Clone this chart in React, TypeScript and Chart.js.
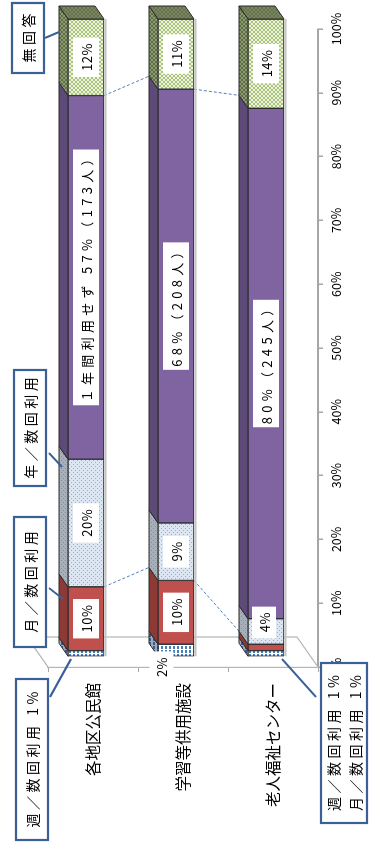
import React, { useEffect, useRef } from 'react';
import { Chart, registerables } from 'chart.js';

Chart.register(...registerables);

// ---- data ----
const categories = ['各地区公民館', '学習等供用施設', '老人福祉センター'];
const seriesNames = ['週／数回利用', '月／数回利用', '年／数回利用', '１年間利用せず', '無回答'];
const weeklyUse = [1, 2, 1];
const monthlyUse = [10, 10, 1];
const yearlyUse = [20, 9, 4];
const notUsed = [57, 68, 80];
const noAnswer = [12, 11, 14];
const notUsedCounts = [173, 208, 245];
const valueTicks = [0, 10, 20, 30, 40, 50, 60, 70, 80, 90, 100];

const seriesData = [weeklyUse, monthlyUse, yearlyUse, notUsed, noAnswer];

const FONT = "'Noto Sans CJK JP', 'Noto Sans', sans-serif";
const W = 843;
const H = 382;
const FRONT = { du: 10, dv: -7 }; // bar front plane offset from floor front
const DEPTH = { du: 13, dv: -9 }; // bar depth vector
const FLOOR = { du: 30, dv: -21 };
const EDGE = '#2B2B2B';
const CALLOUT = '#3B6096';

function tile(w: number, h: number, draw: (g: CanvasRenderingContext2D) => void) {
  const c = document.createElement('canvas');
  c.width = w;
  c.height = h;
  const g = c.getContext('2d')!;
  draw(g);
  return g.createPattern(c, 'repeat')!;
}

function buildPatterns() {
  const stripes = (bg: string, fg: string) =>
    tile(4, 4, (g) => {
      g.fillStyle = bg;
      g.fillRect(0, 0, 4, 4);
      g.fillStyle = fg;
      g.fillRect(0, 0, 3, 2);
    });
  const dots = (bg: string, fg: string) =>
    tile(4, 4, (g) => {
      g.fillStyle = bg;
      g.fillRect(0, 0, 4, 4);
      g.fillStyle = fg;
      g.fillRect(0, 0, 1, 1);
      g.fillRect(2, 2, 1, 1);
    });
  const checker = (a: string, b: string) =>
    tile(4, 4, (g) => {
      g.fillStyle = b;
      g.fillRect(0, 0, 4, 4);
      g.fillStyle = a;
      g.fillRect(0, 0, 2, 2);
      g.fillRect(2, 2, 2, 2);
    });
  return {
    front: [
      stripes('#FFFFFF', '#4A7EBB'),
      '#C0504D',
      dots('#DCE6F2', '#93B0D8'),
      '#8064A2',
      checker('#A9C37A', '#EEF4E0'),
    ] as any[],
    side: [
      stripes('#9AABC4', '#3D5A82'),
      '#8D3A37',
      dots('#A7AFBA', '#838E9D'),
      '#5E4A78',
      checker('#5F6F45', '#8D9B72'),
    ] as any[],
    cap: checker('#66724D', '#7A8660'),
  };
}

function boxLabel(
  ctx: CanvasRenderingContext2D,
  text: string,
  cu: number,
  cv: number,
  size: number,
  spacing: number,
  pad: number,
  bh: number,
) {
  ctx.save();
  ctx.font = `${size}px ${FONT}`;
  (ctx as any).letterSpacing = `${spacing}px`;
  const tw = ctx.measureText(text).width;
  const vis = tw - spacing;
  const bw = vis + pad * 2;
  ctx.fillStyle = '#FFFFFF';
  ctx.fillRect(cu - bw / 2, cv - bh / 2, bw, bh);
  ctx.fillStyle = '#000000';
  ctx.textAlign = 'left';
  ctx.textBaseline = 'middle';
  ctx.fillText(text, cu - vis / 2, cv + 1);
  ctx.restore();
}

type Callout = {
  lines: string[];
  u0: number;
  u1: number;
  v0: number;
  v1: number;
  from: [number, number];
  to: [number, number];
  lineVs?: number[];
};

const callouts: Callout[] = [
  { lines: [seriesNames[4]], u0: 770, u1: 840, v0: 12, v1: 44, from: [805, 45], to: [811, 59] },
  { lines: [seriesNames[2]], u0: 357, u1: 473, v0: 14, v1: 46, from: [390, 49], to: [376, 62] },
  { lines: [seriesNames[1]], u0: 196, u1: 326, v0: 14, v1: 46, from: [255, 49], to: [244, 63] },
  {
    lines: [`${seriesNames[0]} ${weeklyUse[0]}%`],
    u0: 3,
    u1: 164,
    v0: 16,
    v1: 48,
    from: [146, 50],
    to: [184, 71],
  },
  {
    lines: [`${seriesNames[0]} ${weeklyUse[2]}%`, `${seriesNames[1]} ${monthlyUse[2]}%`],
    u0: 20,
    u1: 180,
    v0: 321,
    v1: 367,
    from: [184, 282],
    to: [146, 316],
    lineVs: [333, 355],
  },
];

function segmentLabel(ds: number, i: number): string | null {
  const v = seriesData[ds][i];
  if (v <= 1) return null;
  if (ds === 3) return (i === 0 ? `${seriesNames[3]} ` : '') + `${v}%（${notUsedCounts[i]}人）`;
  return `${v}%`;
}

const threeD = {
  id: 'threeD',
  beforeDatasetsDraw(chart: any) {
    const ctx: CanvasRenderingContext2D = chart.ctx;
    const a = chart.chartArea;
    // floor
    ctx.save();
    ctx.strokeStyle = '#B5B5B5';
    ctx.lineWidth = 1.2;
    ctx.beginPath();
    ctx.moveTo(a.left, a.top);
    ctx.lineTo(a.left + FLOOR.du, a.top + FLOOR.dv);
    ctx.lineTo(a.left + FLOOR.du, a.bottom + FLOOR.dv);
    ctx.lineTo(a.left, a.bottom);
    ctx.stroke();
    ctx.restore();

    ctx.save();
    ctx.translate(FRONT.du, FRONT.dv);
    const metas = seriesData.map((_, k) => chart.getDatasetMeta(k));
    const props = (k: number, i: number) =>
      metas[k].data[i].getProps(['x', 'base', 'y', 'height'], true);

    // series lines
    ctx.save();
    ctx.strokeStyle = '#4F81BD';
    ctx.lineWidth = 1;
    ctx.setLineDash([3, 2]);
    [1, 3].forEach((k) => {
      for (let i = 0; i < categories.length - 1; i++) {
        const p = props(k, i);
        const q = props(k, i + 1);
        ctx.beginPath();
        ctx.moveTo(p.x, p.y + p.height / 2);
        ctx.lineTo(q.x + DEPTH.du, q.y - q.height / 2 + DEPTH.dv);
        ctx.stroke();
      }
    });
    ctx.restore();

    const pats = chart.options.plugins.threeD.pats;
    for (let i = 0; i < categories.length; i++) {
      // light shadow on the far side
      const first = props(0, i);
      const last = props(seriesData.length - 1, i);
      ctx.save();
      ctx.strokeStyle = '#C4C4C4';
      ctx.lineWidth = 2;
      ctx.beginPath();
      ctx.moveTo(first.base, first.y + first.height / 2 + 1.5);
      ctx.lineTo(last.x, last.y + last.height / 2 + 1.5);
      ctx.stroke();
      ctx.restore();
      for (let k = 0; k < seriesData.length; k++) {
        const p = props(k, i);
        const v1 = p.y - p.height / 2;
        ctx.beginPath();
        ctx.moveTo(p.base, v1);
        ctx.lineTo(p.x, v1);
        ctx.lineTo(p.x + DEPTH.du, v1 + DEPTH.dv);
        ctx.lineTo(p.base + DEPTH.du, v1 + DEPTH.dv);
        ctx.closePath();
        ctx.fillStyle = pats.side[k];
        ctx.fill();
        ctx.strokeStyle = EDGE;
        ctx.lineWidth = 1;
        ctx.stroke();
      }
    }
  },
  afterDatasetsDraw(chart: any) {
    const ctx: CanvasRenderingContext2D = chart.ctx;
    const pats = chart.options.plugins.threeD.pats;
    const metas = seriesData.map((_, k) => chart.getDatasetMeta(k));
    const props = (k: number, i: number) =>
      metas[k].data[i].getProps(['x', 'base', 'y', 'height'], true);
    // caps
    for (let i = 0; i < categories.length; i++) {
      const p = props(seriesData.length - 1, i);
      const v1 = p.y - p.height / 2;
      const v2 = p.y + p.height / 2;
      ctx.beginPath();
      ctx.moveTo(p.x, v1);
      ctx.lineTo(p.x, v2);
      ctx.lineTo(p.x + DEPTH.du, v2 + DEPTH.dv);
      ctx.lineTo(p.x + DEPTH.du, v1 + DEPTH.dv);
      ctx.closePath();
      ctx.fillStyle = pats.cap;
      ctx.fill();
      ctx.strokeStyle = EDGE;
      ctx.lineWidth = 1;
      ctx.stroke();
    }
    // labels
    for (let k = 0; k < seriesData.length; k++) {
      for (let i = 0; i < categories.length; i++) {
        const text = segmentLabel(k, i);
        if (!text) continue;
        const p = props(k, i);
        const v = seriesData[k][i];
        let cu = (p.x + p.base) / 2;
        let cv = p.y;
        if (v <= 2) {
          cu = p.base - 11;
          cv = p.y - 14.5;
        } else if (v <= 5) {
          cu += 9;
          cv -= 2;
        }
        const long = text.length > 4;
        boxLabel(ctx, text, cu, cv, 13, long ? 4.3 : 0.5, long ? 3 : 6, v <= 5 ? 24 : 26);
      }
    }
    ctx.restore(); // translate from beforeDatasetsDraw

    // callouts
    ctx.save();
    ctx.strokeStyle = CALLOUT;
    ctx.lineWidth = 2;
    callouts.forEach((c) => {
      ctx.beginPath();
      ctx.moveTo(c.from[0], c.from[1]);
      ctx.lineTo(c.to[0], c.to[1]);
      ctx.stroke();
    });
    callouts.forEach((c) => {
      ctx.fillStyle = '#FFFFFF';
      ctx.fillRect(c.u0, c.v0, c.u1 - c.u0, c.v1 - c.v0);
      ctx.strokeStyle = CALLOUT;
      ctx.lineWidth = 2.2;
      ctx.strokeRect(c.u0, c.v0, c.u1 - c.u0, c.v1 - c.v0);
      ctx.font = `14px ${FONT}`;
      (ctx as any).letterSpacing = '3.5px';
      ctx.fillStyle = '#000000';
      ctx.textBaseline = 'middle';
      ctx.textAlign = 'left';
      c.lines.forEach((line, j) => {
        const tw = ctx.measureText(line).width - 3.5;
        const cv = c.lineVs ? c.lineVs[j] : (c.v0 + c.v1) / 2;
        ctx.fillText(line, (c.u0 + c.u1) / 2 - tw / 2, cv + 1);
      });
      (ctx as any).letterSpacing = '0px';
    });
    ctx.restore();
  },
};

export default function App() {
  const ref = useRef<HTMLCanvasElement>(null);
  useEffect(() => {
    const canvas = ref.current!;
    const pats = buildPatterns();
    const chart = new Chart(canvas, {
      type: 'bar',
      data: {
        labels: categories,
        datasets: seriesData.map((data, k) => ({
          label: seriesNames[k],
          data,
          backgroundColor: pats.front[k],
          borderColor: EDGE,
          borderWidth: 1,
          borderSkipped: false,
          barThickness: 36,
        })),
      },
      options: {
        indexAxis: 'y',
        responsive: false,
        animation: false,
        devicePixelRatio: 1,
        events: [],
        layout: { padding: { top: 48, right: 29, bottom: 0, left: 0 } },
        scales: {
          x: {
            type: 'linear',
            position: 'bottom',
            stacked: true,
            min: 0,
            max: 100,
            afterBuildTicks: (s: any) => {
              s.ticks = valueTicks.map((value) => ({ value }));
            },
            afterFit: (s: any) => {
              s.height = 64;
            },
            ticks: {
              callback: (v: any) => `${v}%`,
              font: { family: FONT, size: 12.5 },
              color: '#000000',
              padding: 6,
              maxRotation: 0,
              autoSkip: false,
            },
            grid: { drawOnChartArea: false, tickLength: 5, color: '#A6A6A6', lineWidth: 1.5 },
            border: { color: '#A6A6A6', width: 2 },
          },
          y: {
            type: 'category',
            position: 'left',
            stacked: true,
            afterFit: (s: any) => {
              s.width = 176;
            },
            ticks: {
              font: { family: FONT, size: 15.5 },
              color: '#000000',
              padding: 11,
            },
            grid: { drawOnChartArea: false, tickLength: 5, color: '#A6A6A6', offset: true },
            border: { color: '#B5B5B5', width: 1.2 },
          },
        },
        plugins: {
          legend: { display: false },
          tooltip: { enabled: false },
          threeD: { pats },
        } as any,
      },
      plugins: [threeD as any],
    });
    return () => chart.destroy();
  }, []);
  return (
    <div
      style={{
        position: 'absolute',
        left: 0,
        top: 0,
        width: 382,
        height: 843,
        overflow: 'hidden',
        background: '#FFFFFF',
      }}
    >
      <div
        style={{
          position: 'absolute',
          left: 0,
          top: 0,
          width: W,
          height: H,
          transformOrigin: '0 0',
          transform: `translate(0px, ${W}px) rotate(-90deg)`,
        }}
      >
        <canvas ref={ref} width={W} height={H} style={{ display: 'block', width: W, height: H }} />
      </div>
    </div>
  );
}
